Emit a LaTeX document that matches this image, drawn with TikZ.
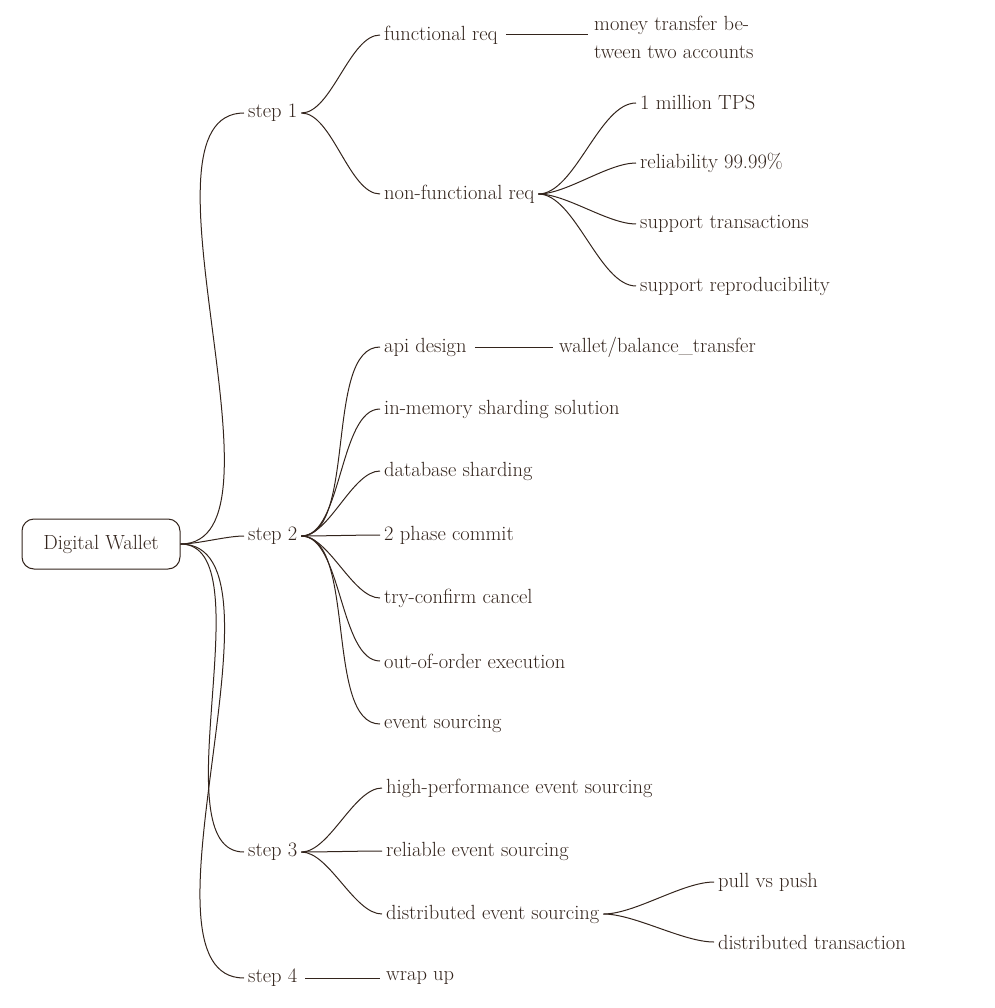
\documentclass[tikz,border=0pt]{standalone}
\definecolor{ink}{HTML}{33241C}
\begin{document}
\begin{tikzpicture}[x=1pt,y=-1pt,
  t/.style={anchor=west,inner sep=4pt,text=ink,font=\fontsize{20.5}{24}\selectfont},
  br/.style={draw=ink,line width=1pt},
  cv/.style={br,out=0,in=180,looseness=0.7}]
\useasboundingbox (0,0) rectangle (994,1008);
\node[draw=ink,line width=1pt,rounded corners=12pt,minimum width=158pt,minimum height=50pt,text=ink,font=\fontsize{20.5}{24}\selectfont] (root) at (101,544) {Digital Wallet};
\node[t] (s1) at (244,113) {step 1};
\node[t] (s2) at (244,536) {step 2};
\node[t] (s3) at (244,852) {step 3};
\node[t] (s4) at (244,978) {step 4};
\foreach \s in {s1,s2,s3,s4} \draw[cv] (root.east) to (\s.west);
% step 1
\node[t] (fr) at (380,35) {functional req};
\node[t,align=left,font=\fontsize{20.5}{28}\selectfont] (mt) at (590,37) {money transfer be-\\tween two accounts};
\node[t] (nfr) at (380,194) {non-functional req};
\draw[cv] (s1.east) to (fr.west);
\draw[cv] (s1.east) to (nfr.west);
\draw[br] ([xshift=4pt]fr.east) -- ([xshift=-2pt]mt.west|-fr.east);
\foreach \n/\y/\l in {n1/103/1 million TPS,n2/163/reliability 99.99\%,n3/224/support transactions,n4/286/support reproducibility}{
  \node[t] (\n) at (636,\y) {\l};
  \draw[cv] (nfr.east) to (\n.west);
}
% step 2
\foreach \n/\y/\l in {b1/347/api design,b2/409/in-memory sharding solution,b3/471/database sharding,b4/535/2 phase commit,b5/598/try-confirm cancel,b6/661/out-of-order execution,b7/724/event sourcing}{
  \node[t] (\n) at (380,\y) {\l};
  \draw[cv] (s2.east) to (\n.west);
}
\node[t] (wb) at (555,347) {wallet/balance\_transfer};
\draw[br] ([xshift=4pt]b1.east) -- ([xshift=-2pt]wb.west);
% step 3
\foreach \n/\y/\l in {c1/788/high-performance event sourcing,c2/851/reliable event sourcing,c3/914/distributed event sourcing}{
  \node[t] (\n) at (382,\y) {\l};
  \draw[cv] (s3.east) to (\n.west);
}
\node[t] (pp) at (714,882) {pull vs push};
\node[t] (dt) at (714,942) {distributed transaction};
\draw[cv] (c3.east) to (pp.west);
\draw[cv] (c3.east) to (dt.west);
% step 4
\node[t] (wu) at (382,978) {wrap up};
\draw[br] ([xshift=4pt]s4.east) -- ([xshift=-2pt]wu.west);
\end{tikzpicture}
\end{document}
